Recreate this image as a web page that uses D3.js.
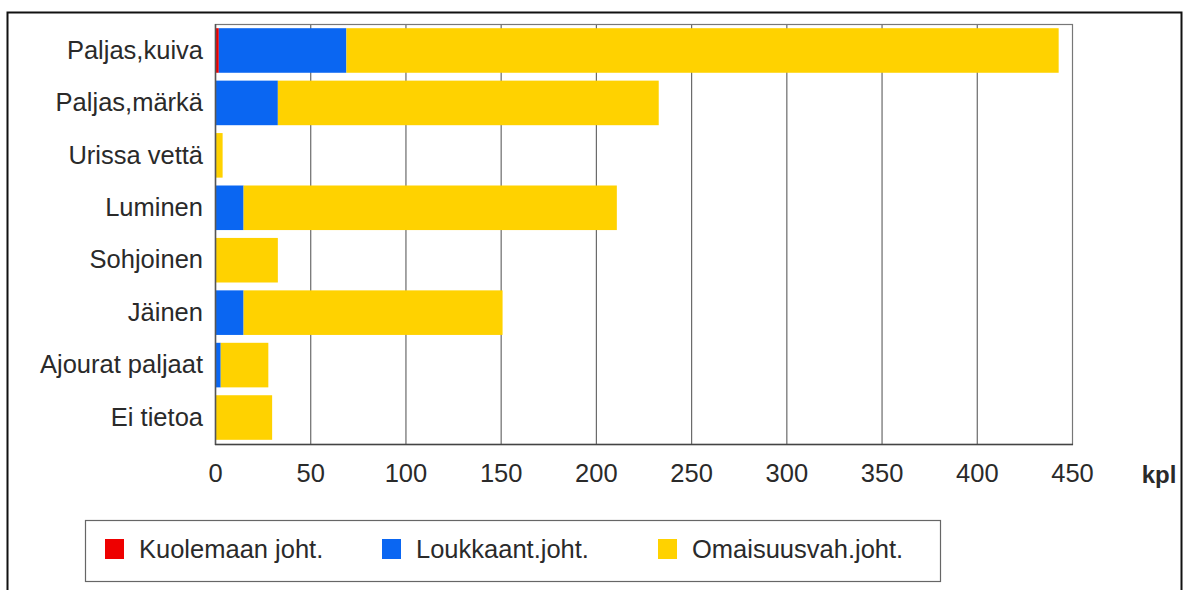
<!DOCTYPE html>
<html>
<head>
<meta charset="utf-8">
<script src="https://cdn.jsdelivr.net/npm/d3@7"></script>
<style>
  body { margin:0; background:#fff; }
  svg text { font-family: "Liberation Sans", Arial, sans-serif; fill:#2a2a2a; }
</style>
</head>
<body>
<svg id="chart"></svg>
<script>
// data
var categories = ['Paljas,kuiva','Paljas,märkä','Urissa vettä','Luminen','Sohjoinen','Jäinen','Ajourat paljaat','Ei tietoa'];
var seriesNames = ['Kuolemaan joht.','Loukkaant.joht.','Omaisuusvah.joht.'];
var deaths   = [2, 0, 0, 0, 0, 0, 0, 0];
var injuries = [67, 33, 0, 15, 0, 15, 3, 0];
var property = [374, 200, 4, 196, 33, 136, 25, 30];
var xTicks = [0,50,100,150,200,250,300,350,400,450];
var colors = ['#ee0000','#0a66f2','#ffd200'];

var width = 1184, height = 590;
var plot = {left:215, top:24, right:1072, bottom:444};
var fontSize = '25.5px';

var svg = d3.select('#chart').attr('width',width).attr('height',height);

// outer frame (no bottom edge visible)
svg.append('path')
  .attr('d','M7.5,590 V12.5 H1181.5 V590')
  .style('fill','none').style('stroke','#111').style('stroke-width',2);

var x = d3.scaleLinear().domain([0,450]).range([plot.left,plot.right]);
var y = d3.scaleBand().domain(categories).range([plot.top,plot.bottom]).paddingInner(0.15).paddingOuter(0.08);

// grid
svg.append('g').selectAll('line').data(xTicks.slice(1,-1)).enter().append('line')
  .attr('x1',function(d){return x(d)+0.5;}).attr('x2',function(d){return x(d)+0.5;})
  .attr('y1',plot.top).attr('y2',plot.bottom)
  .style('stroke','#6a6a6a').style('stroke-width',1.2);

// stacked bars
var rows = categories.map(function(c,i){ return {cat:c, v:[deaths[i],injuries[i],property[i]]}; });
var stack = d3.stack().keys([0,1,2]).value(function(d,k){ return d.v[k]; });
var layers = stack(rows);
var barG = svg.append('g');
layers.forEach(function(layer,k){
  barG.append('g').selectAll('rect').data(layer).enter().append('rect')
    .attr('x',function(d){return x(d[0]);})
    .attr('width',function(d){return Math.max(0,x(d[1])-x(d[0]));})
    .attr('y',function(d){return y(d.data.cat);})
    .attr('height',y.bandwidth())
    .style('fill',colors[k]);
});

// plot frame
svg.append('rect')
  .attr('x',plot.left+0.5).attr('y',plot.top+0.5)
  .attr('width',plot.right-plot.left).attr('height',plot.bottom-plot.top)
  .style('fill','none').style('stroke','#777').style('stroke-width',1.2);
svg.append('line').attr('x1',plot.left+0.5).attr('x2',plot.left+0.5)
  .attr('y1',plot.top).attr('y2',plot.bottom+1).style('stroke','#555').style('stroke-width',1.5);
svg.append('line').attr('x1',plot.left).attr('x2',plot.right+1)
  .attr('y1',plot.bottom+0.5).attr('y2',plot.bottom+0.5).style('stroke','#444').style('stroke-width',1.5);

// axes
var axisX = d3.axisBottom(x).tickValues(xTicks).tickSize(0).tickPadding(20);
var gx = svg.append('g').attr('transform','translate(0,'+plot.bottom+')').call(axisX);
gx.select('.domain').remove();
gx.selectAll('text').style('font-size',fontSize).style('font-family','"Liberation Sans", Arial, sans-serif').attr('fill','#2a2a2a');

var axisY = d3.axisLeft(y).tickSize(0).tickPadding(12);
var gy = svg.append('g').attr('transform','translate('+plot.left+',0)').call(axisY);
gy.select('.domain').remove();
gy.selectAll('text').style('font-size',fontSize).style('font-family','"Liberation Sans", Arial, sans-serif').attr('fill','#2a2a2a');

svg.append('text').attr('x',1159).attr('y',483).attr('text-anchor','middle')
  .style('font-size','24px').style('font-weight','bold').text('kpl');

// legend
var leg = svg.append('g');
leg.append('rect').attr('x',85.5).attr('y',520.5).attr('width',855).attr('height',61)
  .style('fill','#fff').style('stroke','#666').style('stroke-width',1.2);
var legX = [105, 382, 658];
seriesNames.forEach(function(n,i){
  leg.append('rect').attr('x',legX[i]).attr('y',539).attr('width',19).attr('height',20).style('fill',colors[i]);
  leg.append('text').attr('x',legX[i]+34).attr('y',558).style('font-size',fontSize).text(n);
});
</script>
</body>
</html>
